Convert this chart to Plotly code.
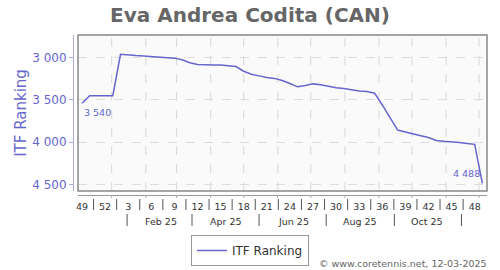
import plotly.graph_objects as go
from datetime import date

# ---------------- data ----------------
start_date = date(2024, 12, 5)          # first weekly ranking point
week_numbers = list(range(49, 53)) + list(range(1, 50))   # 53 weekly points
ranking = [3540, 3450, 3450, 3450, 3450, 2960, 2970, 2975, 2980, 2985,
           2990, 2995, 3005, 3025, 3060, 3080, 3085, 3085, 3085, 3095,
           3105, 3160, 3195, 3215, 3235, 3245, 3270, 3305, 3345, 3330,
           3310, 3320, 3340, 3355, 3365, 3380, 3395, 3400, 3420, 3560,
           3710, 3857, 3880, 3905, 3925, 3945, 3980, 3990, 3995, 4005,
           4015, 4026, 4488]
month_labels = ["Feb 25", "Apr 25", "Jun 25", "Aug 25", "Oct 25"]
month_label_dates = [date(2025, 2, 15), date(2025, 4, 15), date(2025, 6, 15),
                     date(2025, 8, 15), date(2025, 10, 15)]
month_sep_dates = [date(2025, 1, 15), date(2025, 3, 15), date(2025, 5, 15),
                   date(2025, 7, 15), date(2025, 9, 15), date(2025, 11, 15)]
grid_month_dates = [date(2025, m, 1) for m in range(1, 13)]
y_ticks = [3000, 3500, 4000, 4500]

# ---------------- helpers ----------------
idx = list(range(len(ranking)))
def pos(d):
    return (d - start_date).days / 7.0

W, H = 500, 270
ML, MR, MT, MB = 73, 13, 35, 75
PW, PH = W - ML - MR, H - MT - MB
def py(p):   # pixel y -> paper y
    return (H - MB - p) / PH
def px(p):   # pixel x -> paper x
    return (p - ML) / PW

def fmt(v):
    return f"{v:,}".replace(",", " ")

LINE = "#6666cc"

fig = go.Figure()
fig.add_trace(go.Scatter(x=idx, y=ranking, mode="lines", name="ITF Ranking",
                         line=dict(color=LINE, width=1.5)))

tick_idx = [i for i in idx if i % 3 == 0 and i <= 51]
tick_txt = [str(week_numbers[i]) for i in tick_idx]

shapes = []
# vertical month gridlines
for d in grid_month_dates:
    x = pos(d)
    shapes.append(dict(type="line", xref="x", yref="y domain", x0=x, x1=x, y0=0, y1=1,
                       line=dict(color="#d8d8d8", width=1, dash="dash"), layer="below"))
    shapes.append(dict(type="line", xref="x", yref="paper", x0=x, x1=x, y0=py(195), y1=py(198),
                       line=dict(color="#aaaaaa", width=1)))
# plot border
shapes.append(dict(type="rect", xref="x domain", yref="y domain", x0=0, x1=1, y0=0, y1=1,
                   line=dict(color="#888888", width=1.5), fillcolor="rgba(0,0,0,0)", layer="above"))
# week label separators
for i in range(1, 51, 3):
    x = i + 0.5
    shapes.append(dict(type="line", xref="x", yref="paper", x0=x, x1=x, y0=py(199), y1=py(210),
                       line=dict(color="#555555", width=1)))
# month label separators
for d in month_sep_dates:
    x = pos(d)
    shapes.append(dict(type="line", xref="x", yref="paper", x0=x, x1=x, y0=py(214), y1=py(226),
                       line=dict(color="#555555", width=1)))

annotations = []
for lab, d in zip(month_labels, month_label_dates):
    annotations.append(dict(x=pos(d), y=py(221), xref="x", yref="paper", text=lab,
                            showarrow=False, xanchor="center", yanchor="middle",
                            font=dict(family="DejaVu Sans", size=9.5, color="#333333")))
annotations.append(dict(x=idx[0], y=ranking[0], xref="x", yref="y", text=fmt(ranking[0]),
                        showarrow=False, xanchor="left", yanchor="top", yshift=-2,
                        font=dict(family="DejaVu Sans", size=9.5, color=LINE)))
annotations.append(dict(x=idx[-1], y=ranking[-1], xref="x", yref="y", text=fmt(ranking[-1]),
                        showarrow=False, xanchor="right", yanchor="bottom", yshift=2,
                        font=dict(family="DejaVu Sans", size=9.5, color=LINE)))
annotations.append(dict(x=px(489), y=py(263), xref="paper", yref="paper",
                        text="© www.coretennis.net, 12-03-2025", showarrow=False,
                        xanchor="right", yanchor="middle",
                        font=dict(family="DejaVu Sans", size=9.5, color="#666666")))

fig.update_layout(
    width=W, height=H,
    margin=dict(l=ML, r=MR, t=MT, b=MB, pad=0, autoexpand=False),
    paper_bgcolor="white", plot_bgcolor="#fafafa",
    separators=". ",
    font=dict(family="DejaVu Sans", color="#333333"),
    title=dict(text="Eva Andrea Codita (CAN)", x=0.5, xref="container", xanchor="center",
               y=1 - 15 / H, yanchor="middle",
               font=dict(family="DejaVu Sans", size=20, color="#666666", weight="bold")),
    xaxis=dict(domain=[5 / PW, 1], range=[-0.52, 52.6], anchor="free", position=0,
               showline=True, linecolor="#999999", linewidth=1,
               showgrid=False, zeroline=False,
               tickmode="array", tickvals=tick_idx, ticktext=tick_txt,
               ticks="outside", ticklen=3, tickcolor="rgba(0,0,0,0)",
               tickfont=dict(family="DejaVu Sans", size=9.5, color="#333333")),
    yaxis=dict(domain=[4 / PH, 1], range=[4579, 2731], anchor="free", position=0,
               showline=True, linecolor="#aaaadd", linewidth=1,
               showgrid=True, gridcolor="#dddddd", griddash="dash", gridwidth=1,
               zeroline=False, tickmode="array", tickvals=y_ticks, tickformat=",d",
               ticks="outside", ticklen=4, tickcolor="#aaaadd",
               tickfont=dict(family="DejaVu Sans", size=12, color=LINE),
               title=dict(text="ITF Ranking", standoff=0,
                          font=dict(family="DejaVu Sans", size=15, color=LINE))),
    showlegend=True,
    legend=dict(orientation="h", x=px(250), xanchor="center", y=py(235), yanchor="top",
                bordercolor="#999999", borderwidth=1, bgcolor="white",
                font=dict(family="DejaVu Sans", size=12, color="#333333"), itemwidth=30),
    shapes=shapes, annotations=annotations,
)

fig.write_html("out.html")
